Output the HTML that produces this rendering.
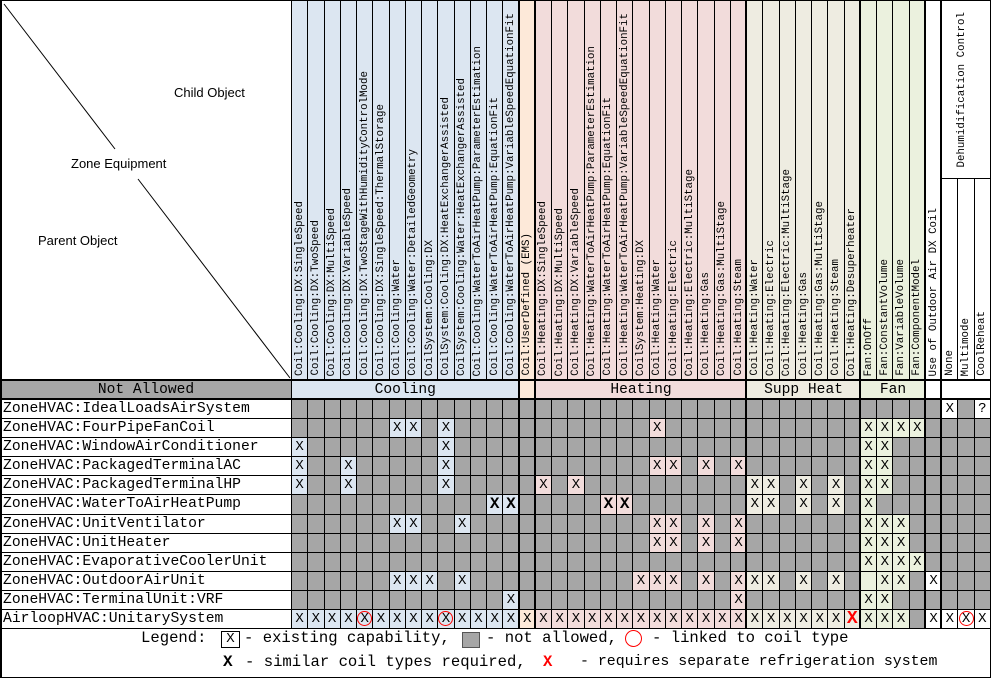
<!DOCTYPE html>
<html><head><meta charset="utf-8"><style>
body{margin:0;width:993px;height:679px;background:#fff;overflow:hidden;position:relative}
#g{position:absolute;left:0;top:0;width:991px;height:629px;box-sizing:border-box;padding:1px;display:grid;grid-template-columns:290px repeat(43,1fr);grid-template-rows:177px 201px repeat(13,1fr);gap:1px;background:#000}
#g>*{background:#a6a6a6;overflow:hidden;display:flex;align-items:center;justify-content:center;font:14px "Liberation Mono",monospace;color:#000;font-style:normal;min-width:0;min-height:0}
#g>.c{background:#dce6f1}#g>.h{background:#f2dcdb}#g>.u{background:#fde9d9}#g>.s{background:#eeece1}#g>.f{background:#ebf1de}#g>.w{background:#fff}
#g>.lab{justify-content:flex-start;background:#fff;padding-left:2px;font-size:14.7px;white-space:nowrap}
#g>.vh{align-items:flex-end}
.vh span{writing-mode:vertical-rl;transform:rotate(180deg);font-size:10.8px;white-space:nowrap;padding-top:4px}
#g>.B{font-weight:bold;font-size:16px}
#g>.R{font-weight:bold;font-size:18px;color:#f00}
.O span{display:flex;align-items:center;justify-content:center;width:15px;height:15px;border:1px solid #f00;border-radius:50%;box-sizing:border-box}
#g>.lh{background:#fff;position:relative;display:block}
.lh div{position:absolute;font:13px "Liberation Sans",sans-serif;white-space:nowrap}
.v{position:absolute;top:0;width:2px;height:629px;background:#000}
.hl{position:absolute;left:0;width:991px;height:2px;background:#000}
#leg{position:absolute;left:0;top:628px;width:991px;height:50px;box-sizing:border-box;border:1px solid #000;border-left:2px solid #000;border-top:none}
.t{position:absolute;font:15.6px "Liberation Mono",monospace;white-space:nowrap;line-height:18px}
</style></head><body>
<div id="g">
<div class="lh" style="grid-row:1/3"><svg width="290" height="379" style="position:absolute;left:0;top:0"><line x1="3" y1="3" x2="114" y2="148" stroke="#000" stroke-width="1"/><line x1="137" y1="178" x2="289" y2="377" stroke="#000" stroke-width="1"/></svg>
<div style="left:173px;top:84px">Child Object</div><div style="left:70px;top:155px">Zone Equipment</div><div style="left:37px;top:232px">Parent Object</div></div>
<div class="vh c" style="grid-row:1/3"><span>Coil:Cooling:DX:SingleSpeed</span></div>
<div class="vh c" style="grid-row:1/3"><span>Coil:Cooling:DX:TwoSpeed</span></div>
<div class="vh c" style="grid-row:1/3"><span>Coil:Cooling:DX:MultiSpeed</span></div>
<div class="vh c" style="grid-row:1/3"><span>Coil:Cooling:DX:VariableSpeed</span></div>
<div class="vh c" style="grid-row:1/3"><span>Coil:Cooling:DX:TwoStageWithHumidityControlMode</span></div>
<div class="vh c" style="grid-row:1/3"><span>Coil:Cooling:DX:SingleSpeed:ThermalStorage</span></div>
<div class="vh c" style="grid-row:1/3"><span>Coil:Cooling:Water</span></div>
<div class="vh c" style="grid-row:1/3"><span>Coil:Cooling:Water:DetailedGeometry</span></div>
<div class="vh c" style="grid-row:1/3"><span>CoilSystem:Cooling:DX</span></div>
<div class="vh c" style="grid-row:1/3"><span>CoilSystem:Cooling:DX:HeatExchangerAssisted</span></div>
<div class="vh c" style="grid-row:1/3"><span>CoilSystem:Cooling:Water:HeatExchangerAssisted</span></div>
<div class="vh c" style="grid-row:1/3"><span>Coil:Cooling:WaterToAirHeatPump:ParameterEstimation</span></div>
<div class="vh c" style="grid-row:1/3"><span>Coil:Cooling:WaterToAirHeatPump:EquationFit</span></div>
<div class="vh c" style="grid-row:1/3"><span>Coil:Cooling:WaterToAirHeatPump:VariableSpeedEquationFit</span></div>
<div class="vh u" style="grid-row:1/3"><span>Coil:UserDefined (EMS)</span></div>
<div class="vh h" style="grid-row:1/3"><span>Coil:Heating:DX:SingleSpeed</span></div>
<div class="vh h" style="grid-row:1/3"><span>Coil:Heating:DX:MultiSpeed</span></div>
<div class="vh h" style="grid-row:1/3"><span>Coil:Heating:DX:VariableSpeed</span></div>
<div class="vh h" style="grid-row:1/3"><span>Coil:Heating:WaterToAirHeatPump:ParameterEstimation</span></div>
<div class="vh h" style="grid-row:1/3"><span>Coil:Heating:WaterToAirHeatPump:EquationFit</span></div>
<div class="vh h" style="grid-row:1/3"><span>Coil:Heating:WaterToAirHeatPump:VariableSpeedEquationFit</span></div>
<div class="vh h" style="grid-row:1/3"><span>CoilSystem:Heating:DX</span></div>
<div class="vh h" style="grid-row:1/3"><span>Coil:Heating:Water</span></div>
<div class="vh h" style="grid-row:1/3"><span>Coil:Heating:Electric</span></div>
<div class="vh h" style="grid-row:1/3"><span>Coil:Heating:Electric:MultiStage</span></div>
<div class="vh h" style="grid-row:1/3"><span>Coil:Heating:Gas</span></div>
<div class="vh h" style="grid-row:1/3"><span>Coil:Heating:Gas:MultiStage</span></div>
<div class="vh h" style="grid-row:1/3"><span>Coil:Heating:Steam</span></div>
<div class="vh s" style="grid-row:1/3"><span>Coil:Heating:Water</span></div>
<div class="vh s" style="grid-row:1/3"><span>Coil:Heating:Electric</span></div>
<div class="vh s" style="grid-row:1/3"><span>Coil:Heating:Electric:MultiStage</span></div>
<div class="vh s" style="grid-row:1/3"><span>Coil:Heating:Gas</span></div>
<div class="vh s" style="grid-row:1/3"><span>Coil:Heating:Gas:MultiStage</span></div>
<div class="vh s" style="grid-row:1/3"><span>Coil:Heating:Steam</span></div>
<div class="vh s" style="grid-row:1/3"><span>Coil:Heating:Desuperheater</span></div>
<div class="vh f" style="grid-row:1/3"><span>Fan:OnOff</span></div>
<div class="vh f" style="grid-row:1/3"><span>Fan:ConstantVolume</span></div>
<div class="vh f" style="grid-row:1/3"><span>Fan:VariableVolume</span></div>
<div class="vh f" style="grid-row:1/3"><span>Fan:ComponentModel</span></div>
<div class="vh w" style="grid-row:1/3"><span>Use of Outdoor Air DX Coil</span></div>
<div class="w" style="grid-column:42/45;grid-row:1"><span style="writing-mode:vertical-rl;transform:rotate(180deg);font-size:10.8px;white-space:nowrap;margin-right:8px">Dehumidification Control</span></div>
<div class="vh w" style="grid-column:42;grid-row:2"><span>None</span></div>
<div class="vh w" style="grid-column:43;grid-row:2"><span>Multimode</span></div>
<div class="vh w" style="grid-column:44;grid-row:2"><span>CoolReheat</span></div>
<div style="font-size:14.6px">Not Allowed</div>
<div class="c" style="grid-column:span 14;font-size:14.6px">Cooling</div>
<div class="u"></div>
<div class="h" style="grid-column:span 13;font-size:14.6px">Heating</div>
<div class="s" style="grid-column:span 7;font-size:14.6px">Supp Heat</div>
<div class="f" style="grid-column:span 4;font-size:14.6px">Fan</div>
<div class="w"></div>
<div class="w" style="grid-column:span 3"></div>

<div class="lab">ZoneHVAC:IdealLoadsAirSystem</div>
<i></i><i></i><i></i><i></i><i></i><i></i><i></i><i></i><i></i><i></i><i></i><i></i><i></i><i></i>
<i></i>
<i></i><i></i><i></i><i></i><i></i><i></i><i></i><i></i><i></i><i></i><i></i><i></i><i></i>
<i></i><i></i><i></i><i></i><i></i><i></i><i></i>
<i></i><i></i><i></i><i></i>
<i></i>
<i class=w>X</i><i></i><i class=w>?</i>

<div class="lab">ZoneHVAC:FourPipeFanCoil</div>
<i></i><i></i><i></i><i></i><i></i><i></i><i class=c>X</i><i class=c>X</i><i></i><i class=c>X</i><i></i><i></i><i></i><i></i>
<i></i>
<i></i><i></i><i></i><i></i><i></i><i></i><i></i><i class=h>X</i><i></i><i></i><i></i><i></i><i></i>
<i></i><i></i><i></i><i></i><i></i><i></i><i></i>
<i class=f>X</i><i class=f>X</i><i class=f>X</i><i class=f>X</i>
<i></i>
<i></i><i></i><i></i>

<div class="lab">ZoneHVAC:WindowAirConditioner</div>
<i class=c>X</i><i></i><i></i><i></i><i></i><i></i><i></i><i></i><i></i><i class=c>X</i><i></i><i></i><i></i><i></i>
<i></i>
<i></i><i></i><i></i><i></i><i></i><i></i><i></i><i></i><i></i><i></i><i></i><i></i><i></i>
<i></i><i></i><i></i><i></i><i></i><i></i><i></i>
<i class=f>X</i><i class=f>X</i><i></i><i></i>
<i></i>
<i></i><i></i><i></i>

<div class="lab">ZoneHVAC:PackagedTerminalAC</div>
<i class=c>X</i><i></i><i></i><i class=c>X</i><i></i><i></i><i></i><i></i><i></i><i class=c>X</i><i></i><i></i><i></i><i></i>
<i></i>
<i></i><i></i><i></i><i></i><i></i><i></i><i></i><i class=h>X</i><i class=h>X</i><i></i><i class=h>X</i><i></i><i class=h>X</i>
<i></i><i></i><i></i><i></i><i></i><i></i><i></i>
<i class=f>X</i><i class=f>X</i><i></i><i></i>
<i></i>
<i></i><i></i><i></i>

<div class="lab">ZoneHVAC:PackagedTerminalHP</div>
<i class=c>X</i><i></i><i></i><i class=c>X</i><i></i><i></i><i></i><i></i><i></i><i class=c>X</i><i></i><i></i><i></i><i></i>
<i></i>
<i class=h>X</i><i></i><i class=h>X</i><i></i><i></i><i></i><i></i><i></i><i></i><i></i><i></i><i></i><i></i>
<i class=s>X</i><i class=s>X</i><i></i><i class=s>X</i><i></i><i class=s>X</i><i></i>
<i class=f>X</i><i class=f>X</i><i></i><i></i>
<i></i>
<i></i><i></i><i></i>

<div class="lab">ZoneHVAC:WaterToAirHeatPump</div>
<i></i><i></i><i></i><i></i><i></i><i></i><i></i><i></i><i></i><i></i><i></i><i></i><i class="c B">X</i><i class="c B">X</i>
<i></i>
<i></i><i></i><i></i><i></i><i class="h B">X</i><i class="h B">X</i><i></i><i></i><i></i><i></i><i></i><i></i><i></i>
<i class=s>X</i><i class=s>X</i><i></i><i class=s>X</i><i></i><i class=s>X</i><i></i>
<i class=f>X</i><i></i><i></i><i></i>
<i></i>
<i></i><i></i><i></i>

<div class="lab">ZoneHVAC:UnitVentilator</div>
<i></i><i></i><i></i><i></i><i></i><i></i><i class=c>X</i><i class=c>X</i><i></i><i></i><i class=c>X</i><i></i><i></i><i></i>
<i></i>
<i></i><i></i><i></i><i></i><i></i><i></i><i></i><i class=h>X</i><i class=h>X</i><i></i><i class=h>X</i><i></i><i class=h>X</i>
<i></i><i></i><i></i><i></i><i></i><i></i><i></i>
<i class=f>X</i><i class=f>X</i><i class=f>X</i><i></i>
<i></i>
<i></i><i></i><i></i>

<div class="lab">ZoneHVAC:UnitHeater</div>
<i></i><i></i><i></i><i></i><i></i><i></i><i></i><i></i><i></i><i></i><i></i><i></i><i></i><i></i>
<i></i>
<i></i><i></i><i></i><i></i><i></i><i></i><i></i><i class=h>X</i><i class=h>X</i><i></i><i class=h>X</i><i></i><i class=h>X</i>
<i></i><i></i><i></i><i></i><i></i><i></i><i></i>
<i class=f>X</i><i class=f>X</i><i class=f>X</i><i></i>
<i></i>
<i></i><i></i><i></i>

<div class="lab">ZoneHVAC:EvaporativeCoolerUnit</div>
<i></i><i></i><i></i><i></i><i></i><i></i><i></i><i></i><i></i><i></i><i></i><i></i><i></i><i></i>
<i></i>
<i></i><i></i><i></i><i></i><i></i><i></i><i></i><i></i><i></i><i></i><i></i><i></i><i></i>
<i></i><i></i><i></i><i></i><i></i><i></i><i></i>
<i class=f>X</i><i class=f>X</i><i class=f>X</i><i class=f>X</i>
<i></i>
<i></i><i></i><i></i>

<div class="lab">ZoneHVAC:OutdoorAirUnit</div>
<i></i><i></i><i></i><i></i><i></i><i></i><i class=c>X</i><i class=c>X</i><i class=c>X</i><i></i><i class=c>X</i><i></i><i></i><i></i>
<i></i>
<i></i><i></i><i></i><i></i><i></i><i></i><i class=h>X</i><i class=h>X</i><i class=h>X</i><i></i><i class=h>X</i><i></i><i class=h>X</i>
<i class=s>X</i><i class=s>X</i><i></i><i class=s>X</i><i></i><i class=s>X</i><i></i>
<i class=f></i><i class=f>X</i><i class=f>X</i><i></i>
<i class=w>X</i>
<i></i><i></i><i></i>

<div class="lab">ZoneHVAC:TerminalUnit:VRF</div>
<i></i><i></i><i></i><i></i><i></i><i></i><i></i><i></i><i></i><i></i><i></i><i></i><i></i><i class=c>X</i>
<i></i>
<i></i><i></i><i></i><i></i><i></i><i></i><i></i><i></i><i></i><i></i><i></i><i></i><i class=h>X</i>
<i></i><i></i><i></i><i></i><i></i><i></i><i></i>
<i class=f>X</i><i class=f>X</i><i></i><i></i>
<i></i>
<i></i><i></i><i></i>

<div class="lab">AirloopHVAC:UnitarySystem</div>
<i class=c>X</i><i class=c>X</i><i class=c>X</i><i class=c>X</i><i class="c O"><span>X</span></i><i class=c>X</i><i class=c>X</i><i class=c>X</i><i class=c>X</i><i class="c O"><span>X</span></i><i class=c>X</i><i class=c>X</i><i class=c>X</i><i class=c>X</i>
<i class=u>X</i>
<i class=h>X</i><i class=h>X</i><i class=h>X</i><i class=h>X</i><i class=h>X</i><i class=h>X</i><i class=h>X</i><i class=h>X</i><i class=h>X</i><i class=h>X</i><i class=h>X</i><i class=h>X</i><i class=h>X</i>
<i class=s>X</i><i class=s>X</i><i class=s>X</i><i class=s>X</i><i class=s>X</i><i class=s>X</i><i class="s R">X</i>
<i class=f>X</i><i class=f>X</i><i class=f>X</i><i></i>
<i class=w>X</i>
<i class=w>X</i><i class="w O"><span>X</span></i><i class=w>X</i>
</div>

<div class="v" style="left:0"></div>
<div class="v" style="left:518px"></div>
<div class="v" style="left:534px"></div>
<div class="v" style="left:745px"></div>
<div class="v" style="left:859px"></div>
<div class="v" style="left:924px"></div>
<div class="v" style="left:940px"></div>
<div class="hl" style="top:379px"></div>
<div class="hl" style="top:398px"></div>

<div id="leg"></div>
<div class="t" style="left:141px;top:629px">Legend:</div>
<div style="position:absolute;left:221px;top:631px;width:19px;height:17px;border:1px solid #000;box-sizing:border-box;font:14px 'Liberation Mono',monospace;text-align:center;line-height:15px">X</div>
<div class="t" style="left:244px;top:629px">- existing capability,</div>
<div style="position:absolute;left:462px;top:632px;width:18px;height:16px;background:#a6a6a6;border:1px solid #555;box-sizing:border-box"></div>
<div class="t" style="left:486px;top:629px">- not allowed,</div>
<div style="position:absolute;left:625px;top:630px;width:17px;height:17px;border:1px solid #f00;border-radius:50%;box-sizing:border-box"></div>
<div class="t" style="left:652px;top:629px">- linked to coil type</div>
<div class="t" style="left:223px;top:653px;font-weight:bold;font-size:16px">X</div>
<div class="t" style="left:245px;top:653px">- similar coil types required,</div>
<div class="t" style="left:543px;top:653px;font-weight:bold;color:#f00">X</div>
<div class="t" style="left:580px;top:653px;font-size:14.9px">- requires separate refrigeration system</div>
</body></html>
